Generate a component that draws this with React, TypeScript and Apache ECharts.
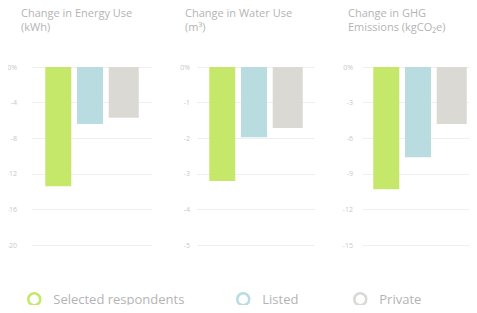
import React, { useEffect, useRef } from "react";
import * as echarts from "echarts";

const seriesNames = ["Selected respondents", "Listed", "Private"];
const panelTitles = [
  "Change in Energy Use\n(kWh)",
  "Change in Water Use\n(m³)",
  "Change in GHG\nEmissions (kgCO₂e)",
];
const energyValues = [-13.4, -6.4, -5.7];
const waterValues = [-3.2, -1.97, -1.71];
const ghgValues = [-10.3, -7.6, -4.8];
const axisMins = [-20, -5, -15];
const axisIntervals = [4, 1, 3];
const colors = ["#c6e86a", "#b9dce0", "#dad9d4"];

export default function App() {
  const ref = useRef<HTMLDivElement>(null);
  useEffect(() => {
    if (!ref.current) return;
    const chart = echarts.init(ref.current, null, { renderer: "svg" });
    const panelValues = [energyValues, waterValues, ghgValues];
    const gridLefts = [32, 197, 363];
    const gridWidths = [120, 118, 118];
    const labelMargins = [15, 7, 10];
    const titleLefts = [16, 180, 343];
    const barWidths = [26, 26, 30];
    const font = "'Open Sans', sans-serif";

    const grids = gridLefts.map((l, i) => ({ left: l, width: gridWidths[i], top: 67, height: 178 }));
    const xAxes = gridLefts.map((_, i) => ({
      type: "category",
      gridIndex: i,
      data: ["x"],
      show: false,
    }));
    const yAxes = gridLefts.map((_, i) => ({
      type: "value",
      gridIndex: i,
      min: axisMins[i],
      max: 0,
      interval: axisIntervals[i],
      axisLine: { show: false },
      axisTick: { show: false },
      axisLabel: {
        color: "#c8c8c8",
        fontSize: 7,
        fontFamily: font,
        margin: labelMargins[i],
        formatter: (v: number) => (v === 0 ? "0%" : String(v)),
      },
      splitLine: { lineStyle: { color: "#efefef", width: 1 } },
    }));
    const series: any[] = [];
    panelValues.forEach((vals, p) => {
      vals.forEach((v, s) => {
        series.push({
          type: "bar",
          name: seriesNames[s],
          xAxisIndex: p,
          yAxisIndex: p,
          data: [v],
          barWidth: barWidths[s],
          barGap: "22%",
          itemStyle: { color: colors[s] },
        });
      });
    });
    const legendLefts = [22, 231, 348];
    chart.setOption({
      animation: false,
      title: panelTitles.map((t, i) => ({
        text: t,
        left: titleLefts[i],
        top: 0,
        textStyle: {
          color: "#b4b4b4",
          fontSize: 11,
          fontWeight: "normal",
          fontFamily: font,
          lineHeight: 14,
        },
      })),
      grid: grids,
      xAxis: xAxes,
      yAxis: yAxes,
      legend: seriesNames.map((n, i) => ({
        left: legendLefts[i],
        top: 287,
        icon: "circle",
        itemWidth: 12,
        itemHeight: 12,
        data: [
          {
            name: n,
            itemStyle: { color: "#ffffff", borderColor: colors[i], borderWidth: 2.5 },
          },
        ],
        textStyle: {
          color: "#b4b4b4",
          fontSize: 13,
          fontFamily: font,
          padding: [0, 0, 0, 8],
        },
        selectedMode: false,
      })),
      series,
    });
    return () => chart.dispose();
  }, []);
  return <div ref={ref} style={{ width: 477, height: 313, margin: -8 }} />;
}
